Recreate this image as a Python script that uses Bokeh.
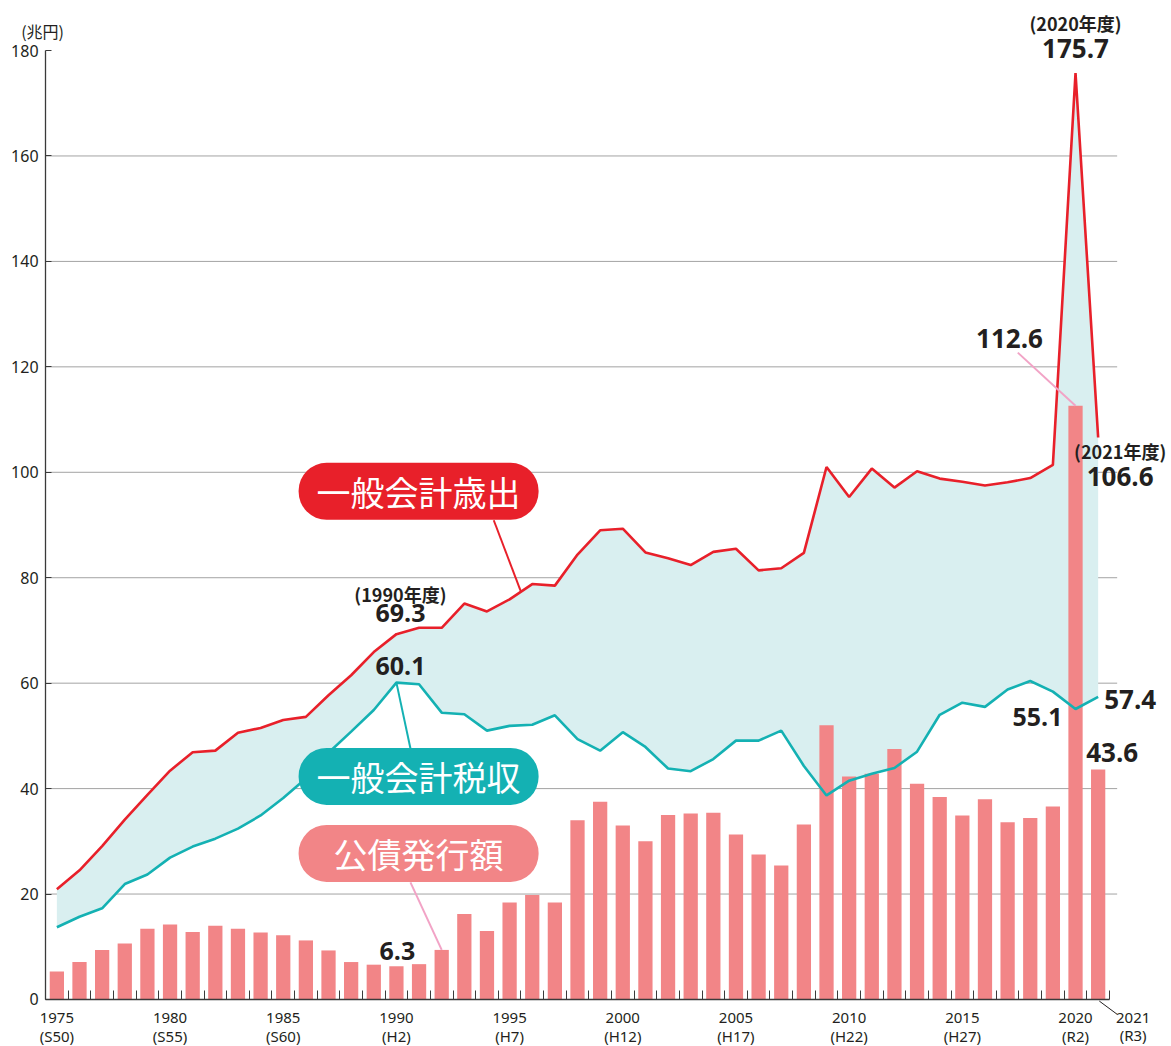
from bokeh.plotting import figure
from bokeh.models import FixedTicker, Label, Range1d, Arrow
from bokeh.embed import file_html
from bokeh.resources import INLINE

# ---------------- data (兆円) ----------------
years = list(range(1975, 2022))
expenditure = [20.9, 24.5, 29.1, 34.1, 38.8, 43.4, 46.9, 47.2, 50.6, 51.5,
               53.0, 53.6, 57.7, 61.5, 65.9, 69.3, 70.5, 70.5, 75.1, 73.6,
               75.9, 78.8, 78.5, 84.4, 89.0, 89.3, 84.8, 83.7, 82.4, 84.9,
               85.5, 81.4, 81.8, 84.7, 101.0, 95.3, 100.7, 97.1, 100.2, 98.8,
               98.2, 97.5, 98.1, 98.9, 101.4, 175.7, 106.6]
tax_revenue = [13.7, 15.7, 17.3, 21.9, 23.7, 26.9, 29.0, 30.5, 32.4, 34.9,
               38.2, 41.9, 46.8, 50.8, 54.9, 60.1, 59.8, 54.4, 54.1, 51.0,
               51.9, 52.1, 53.9, 49.4, 47.2, 50.7, 47.9, 43.8, 43.3, 45.6,
               49.1, 49.1, 51.0, 44.3, 38.7, 41.5, 42.8, 43.9, 47.0, 54.0,
               56.3, 55.5, 58.8, 60.4, 58.4, 55.1, 57.4]
bond_issuance = [5.3, 7.1, 9.4, 10.6, 13.4, 14.2, 12.8, 14.0, 13.4, 12.7,
                 12.2, 11.2, 9.3, 7.1, 6.6, 6.3, 6.7, 9.4, 16.2, 13.0,
                 18.4, 19.8, 18.4, 34.0, 37.5, 33.0, 30.0, 35.0, 35.3, 35.4,
                 31.3, 27.5, 25.4, 33.2, 52.0, 42.3, 42.8, 47.5, 40.9, 38.4,
                 34.9, 38.0, 33.6, 34.4, 36.6, 112.6, 43.6]

tick_years = [1975, 1980, 1985, 1990, 1995, 2000, 2005, 2010, 2015, 2020]
tick_eras = ["S50", "S55", "S60", "H2", "H7", "H12", "H17", "H22", "H27", "R2"]
last_year_label = "2021\n(R3)"
y_ticks = [0, 20, 40, 60, 80, 100, 120, 140, 160, 180]

series_names = ["一般会計歳出", "一般会計税収", "公債発行額"]

# ---------------- styles ----------------
RED = "#e8202a"
TEAL = "#14b1b3"
PINK = "#f28587"
FILL = "#d9eff0"
DARK = "#231f20"
GRID = "#a3a3a3"
LEADER_PINK = "#f2a3c6"

X0, X1 = 1974.5, 2021.5          # axis extent
GRID_END = 2021.84

p = figure(width=1171, height=1046,
           x_range=Range1d(1972.51, 2024.24), y_range=Range1d(-8.92, 189.49),
           output_backend="svg", toolbar_location=None, title=None,
           min_border_left=0, min_border_right=0, min_border_top=0,
           min_border_bottom=0)
p.outline_line_color = None
p.background_fill_color = "white"
p.border_fill_color = "white"

# grid (drawn only across the plot area)
p.xgrid.visible = False
p.ygrid.visible = False
gy = y_ticks[1:-1]
p.segment(x0=[X0] * len(gy), x1=[GRID_END] * len(gy), y0=gy, y1=gy,
          line_color=GRID, line_width=1)

# y axis
p.yaxis.fixed_location = X0
p.yaxis.ticker = FixedTicker(ticks=y_ticks)
p.yaxis.bounds = (0, 180)
p.yaxis.axis_line_color = "#3a3a3a"
p.yaxis.axis_line_width = 1.3
p.yaxis.major_tick_in = 6
p.yaxis.major_tick_out = 0
p.yaxis.major_tick_line_color = "#3a3a3a"
p.yaxis.minor_tick_line_color = None
p.yaxis.major_label_standoff = 7
p.yaxis.major_label_text_font = "Noto Sans"
p.yaxis.major_label_text_font_size = "16px"
p.yaxis.major_label_text_color = DARK

# x axis
minor = [y - 0.5 for y in years] + [years[-1] + 0.5]
p.xaxis.fixed_location = 0
p.xaxis.ticker = FixedTicker(ticks=tick_years, minor_ticks=minor)
p.xaxis.bounds = (X0, X1)
p.xaxis.major_label_overrides = {y: f"{y}\n({e})" for y, e in zip(tick_years, tick_eras)}
p.xaxis.axis_line_color = "#3a3a3a"
p.xaxis.axis_line_width = 1.5
p.xaxis.major_tick_in = 0
p.xaxis.major_tick_out = 0
p.xaxis.minor_tick_in = 9
p.xaxis.minor_tick_out = 0
p.xaxis.minor_tick_line_color = "#3a3a3a"
p.xaxis.major_label_standoff = 8
p.xaxis.major_label_text_font = "Noto Sans"
p.xaxis.major_label_text_font_size = "15px"
p.xaxis.major_label_text_color = DARK
p.xaxis.major_label_text_line_height = 0.95

# ---------------- marks ----------------
p.varea(x=years, y1=tax_revenue, y2=expenditure, fill_color=FILL)
p.vbar(x=years, top=bond_issuance, width=0.63, fill_color=PINK, line_color=None)
p.line(years, expenditure, line_color=RED, line_width=2.6)
p.line(years, tax_revenue, line_color=TEAL, line_width=2.6)

# leader lines
p.line([1994.3, 1995.5], [90.9, (expenditure[20] + expenditure[21]) / 2], line_color=RED, line_width=2)
p.line([1990.0, 1990.62], [tax_revenue[15], 47.6], line_color=TEAL, line_width=2)
p.line([1990.62, 1992.0], [22.2, bond_issuance[17]], line_color=LEADER_PINK, line_width=2)
p.line([2017.45, 2020.0], [122.7, bond_issuance[45]], line_color=LEADER_PINK, line_width=2)
p.add_layout(Arrow(end=None, x_start=2021.05, y_start=-0.3, x_end=2021.85, y_end=-2.85,
                   line_color=DARK, line_width=1))


def lab(x, y, text, size, xo=0, yo=0, font="Open Sans", style="bold", color=DARK, align="center"):
    p.add_layout(Label(x=x, y=y, text=text, x_offset=xo, y_offset=yo,
                       text_font=font, text_font_size=f"{size}px", text_font_style=style,
                       text_color=color, text_align=align, text_baseline="middle"))


i2020 = years.index(2020)
i1990 = years.index(1990)
i2021 = years.index(2021)

lab(2020, expenditure[i2020], "(2020年度)", 18, 0, 50, font="Noto Sans CJK JP")
lab(2020, expenditure[i2020], f"{expenditure[i2020]}", 26, 0, 25)
lab(1990, expenditure[i1990], "(1990年度)", 18, 4, 40, font="Noto Sans CJK JP")
lab(1990, expenditure[i1990], f"{expenditure[i1990]}", 25, 4, 21)
lab(1990, tax_revenue[i1990], f"{tax_revenue[i1990]}", 25, 4, 17)
lab(1990, bond_issuance[i1990], f"{bond_issuance[i1990]}", 25, 1, 15)
lab(2020, bond_issuance[i2020], f"{bond_issuance[i2020]}", 26, -66, 67)
lab(2021, expenditure[i2021], "(2021年度)", 18, 22, -14, font="Noto Sans CJK JP")
lab(2021, expenditure[i2021], f"{expenditure[i2021]}", 26, 22, -39)
lab(2020, tax_revenue[i2020], f"{tax_revenue[i2020]}", 25, -38, -8)
lab(2021, tax_revenue[i2021], f"{tax_revenue[i2021]}", 26, 32, -3)
lab(2021, bond_issuance[i2021], f"{bond_issuance[i2021]}", 26, 14, 17)

# unit label and last x label
lab(X0, 180, "(兆円)", 16, -3, 20, font="Noto Sans CJK JP", style="normal")
p.add_layout(Label(x=2021, y=0, text=last_year_label, x_offset=35, y_offset=-8,
                   text_font="Noto Sans", text_font_size="15px", text_color=DARK,
                   text_align="center", text_baseline="top", text_line_height=0.9))

# legend pills (equal width)
for name, color, yc in zip(series_names, [RED, TEAL, PINK], [96.4, 42.3, 27.7]):
    padx = 18 + (6 - len(name)) * 17
    p.add_layout(Label(x=1990.98, y=yc, text=name, text_align="center", text_baseline="middle",
                       text_font="Noto Sans CJK JP", text_font_size="34px", text_color="white",
                       background_fill_color=color, border_radius=28,
                       padding=dict(left=padx, right=padx, top=4, bottom=4)))

open("out.html", "w").write(file_html(p, INLINE))
